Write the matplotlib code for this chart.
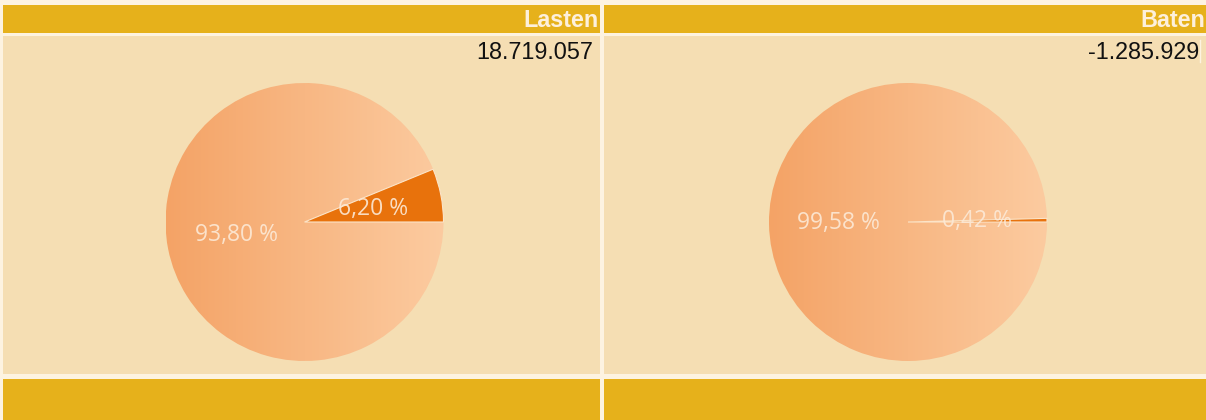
import numpy as np
import matplotlib.pyplot as plt
from matplotlib.patches import Rectangle
from matplotlib.colors import LinearSegmentedColormap

# panel contents
titles = ["Lasten", "Baten"]
totals = ["18.719.057", "-1.285.929"]
small_share = [6.20, 0.42]
large_share = [93.80, 99.58]

# colours
CREAM = "#FDF3E1"
GOLD = "#E6B11B"
BEIGE = "#F5DEB3"
DARK_ORANGE = "#E8720C"
LABEL = "#FCE9D6"

W, H = 1206, 420
fig = plt.figure(figsize=(W / 100, H / 100), dpi=100)
fig.patch.set_facecolor(CREAM)

# pixel-space background axes for the table cells
bg = fig.add_axes([0, 0, 1, 1])
bg.set_xlim(0, W)
bg.set_ylim(H, 0)
bg.axis("off")

panels = [(3, 600), (604, W)]
radius = 139
cy = 222

peach = LinearSegmentedColormap.from_list("peach", ["#F4A366", "#F8B783", "#FCCBA0"])
grad = np.linspace(0, 1, 256)[None, :]


def autopct(p):
    return f"{p:.2f} %".replace(".", ",")


for i, (x0, x1) in enumerate(panels):
    # header, body and footer cells
    bg.add_patch(Rectangle((x0, 5), x1 - x0, 28, color=GOLD, lw=0))
    bg.add_patch(Rectangle((x0, 36), x1 - x0, 338, color=BEIGE, lw=0))
    bg.add_patch(Rectangle((x0, 379), x1 - x0, H - 379, color=GOLD, lw=0))

    bg.text(x1 - 1, 27, titles[i], ha="right", va="baseline",
            fontsize=16.8, fontweight="bold", color="#FDF0DC",
            family="Liberation Sans")
    bg.text(x1 - 7, 59, totals[i], ha="right", va="baseline",
            fontsize=16.8, color="#111111", family="Liberation Sans")

    # pie
    cx = (x0 + x1) / 2 + 3
    ax = fig.add_axes([(cx - radius) / W, (H - cy - radius) / H,
                       2 * radius / W, 2 * radius / H])
    ax.axis("off")
    wedges, texts, autotexts = ax.pie(
        [small_share[i], large_share[i]], startangle=0, counterclock=True,
        radius=1, colors=[DARK_ORANGE, "none"], autopct=autopct,
        pctdistance=0.5,
        textprops=dict(color=LABEL, fontsize=16.5, family="Open Sans")
    )
    wedges[0].set_edgecolor("#FCE4C8")
    wedges[0].set_linewidth(0.8)
    wedges[0].set_zorder(3)

    # horizontal gradient inside the large slice
    im = ax.imshow(grad, cmap=peach, extent=(-1, 1, -1, 1),
                   aspect="auto", zorder=1)
    im.set_clip_path(wedges[1])
    for t in autotexts:
        t.set_zorder(5)
        t.set_alpha(0.9)
    ax.set_xlim(-1, 1)
    ax.set_ylim(-1, 1)

# thin cell separators near the totals
bg.plot([601.5, 601.5], [5, 67], color=CREAM, lw=2)
bg.plot([1200, 1200], [40, 62], color=CREAM, lw=1)

fig.savefig("out.png", dpi=100, facecolor=CREAM)
